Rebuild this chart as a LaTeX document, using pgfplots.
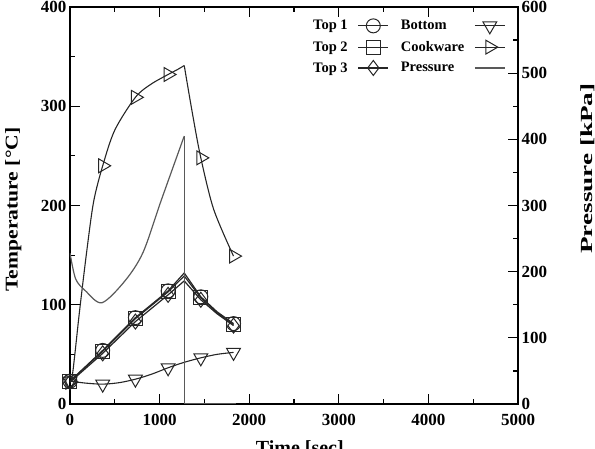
\documentclass[border=0pt]{standalone}
\usepackage{pgfplots}
\pgfplotsset{compat=1.18}
\usepackage{pgfplotstable}
\usepackage{fontspec}
\setmainfont{Liberation Serif}
\newfontfamily\ylabfont[FakeStretch=1.2]{Liberation Serif}
\newfontfamily\plabfont[FakeStretch=1.6]{Liberation Serif}

\pgfplotstableread{
t T
0 23
365 54
730 87
1095 114
1275 132
1460 108
1640 93
1825 81
}\topone
\pgfplotstableread{
t T
0 23
365 53
730 86
1095 113
1275 129
1460 107
1640 92
1825 80
}\toptwo
\pgfplotstableread{
t T
0 22
365 51
730 83
1095 110
1275 124
1460 105
1640 91
1825 79
}\topthree
\pgfplotstableread{
t T
0 23
180 21
365 20
550 21.5
730 25
910 30
1095 36.5
1275 42
1460 46.5
1640 50
1825 52
}\bottomline
\pgfplotstableread{
t T
0 23
365 20
730 25
1095 36.5
1460 46.5
1825 52
}\bottommarks
\pgfplotstableread{
t T
0 22
25 28
60 55
107 94
187 154
264 204
365 240
500 276
730 309
900 322
1095 332
1200 337
1275 341
}\cookup
\pgfplotstableread{
t T
1275 341
1366 293
1460 248
1604 196
1825 149
}\cookdown
\pgfplotstableread{
t T
0 22
365 240
730 309
1095 332
1460 248
1825 149
}\cookmarks
\pgfplotstableread{
t P
0 228
63 189
173 171
356 153
613 186
815 229
1016 307
1275 405
}\pressup

\begin{document}
\begin{tikzpicture}
\begin{axis}[name=main, scale only axis, width=448pt, height=397pt,
  xmin=0, xmax=5000, ymin=0, ymax=400,
  xtick={0,1000,...,5000}, minor x tick num=1,
  ytick={0,100,...,400}, minor y tick num=1,
  xtick pos=both, ytick pos=left, tick align=inside,
  major tick length=10pt, minor tick length=5pt,
  tick style={black, line width=1.2pt},
  axis line style={line width=1.6pt},
  scaled x ticks=false,
  /pgf/number format/assume math mode=true,
  /pgf/number format/1000 sep={},
  tick label style={font=\bfseries\fontsize{17}{17}\selectfont},
  xticklabel style={yshift=-7pt},
  xlabel={\bfseries\fontsize{20}{20}\selectfont Time [sec]},
  xlabel style={at={(axis description cs:0.513,-0.0907)}, anchor=north, inner sep=0pt},
  ylabel={\ylabfont\bfseries\fontsize{18}{18}\selectfont Temperature [°C]},
  ylabel style={at={(axis description cs:-0.1265,0.49)}, anchor=center, inner sep=0pt},
]
\addplot[black!85, line width=1.2pt, sharp plot, mark=o, mark size=7pt, mark options={solid, fill=none, line width=1pt}, mark indices={1,2,3,4,6,8}] table[x=t,y=T] {\topone};
\addplot[black!85, line width=1.2pt, sharp plot, mark=square, mark size=7pt, mark options={solid, fill=none, line width=1pt}, mark indices={1,2,3,4,6,8}] table[x=t,y=T] {\toptwo};
\addplot[black!85, line width=1.2pt, sharp plot, mark=diamond, mark size=7.5pt, mark options={solid, fill=none, line width=1pt}, mark indices={1,2,3,4,6,8}] table[x=t,y=T] {\topthree};
\addplot[black!85, line width=1.1pt, smooth, tension=0.5, no marks] table[x=t,y=T] {\bottomline};
\addplot[black!85, line width=1pt, only marks, mark=triangle, mark size=8pt, mark options={solid, fill=none, rotate=180}] table[x=t,y=T] {\bottommarks};
\addplot[black!85, line width=1.1pt, smooth, tension=0.5, no marks] table[x=t,y=T] {\cookup};
\addplot[black!85, line width=1.1pt, smooth, tension=0.5, no marks] table[x=t,y=T] {\cookdown};
\addplot[black!85, line width=1pt, only marks, mark=triangle, mark size=8pt, mark options={solid, fill=none, rotate=-90}] table[x=t,y=T] {\cookmarks};
\end{axis}
\begin{axis}[scale only axis, width=448pt, height=397pt,
  xmin=0, xmax=5000, ymin=0, ymax=600,
  axis x line=none, axis y line*=right,
  ytick={0,100,...,600}, minor y tick num=1,
  tick align=inside,
  major tick length=10pt, minor tick length=5pt,
  tick style={black, line width=1.2pt},
  axis line style={line width=1.6pt},
  /pgf/number format/assume math mode=true,
  tick label style={font=\bfseries\fontsize{17}{17}\selectfont},
  ylabel={\plabfont\bfseries\fontsize{17}{17}\selectfont Pressure [kPa]},
  ylabel style={at={(axis description cs:1.156,0.593)}, anchor=center, inner sep=0pt},
  legend columns=2, legend plot pos=right, legend cell align=left,
  legend style={draw=none, fill=none, at={(axis description cs:0.538,0.972)}, anchor=north west,
    inner sep=0pt, nodes={inner sep=2pt}, row sep=5.5pt,
    font=\bfseries\fontsize{14.5}{15}\selectfont,
    /tikz/every odd column/.append style={column sep=8pt},
    /tikz/every even column/.append style={column sep=10pt}},
  legend image code/.code={\draw[mark repeat=2,mark phase=2,#1] plot coordinates {(0pt,0pt) (15pt,0pt) (30pt,0pt)};},
]
\addlegendimage{black!85, line width=1.1pt, mark=o, mark size=7pt, mark options={solid, fill=none, line width=1pt}}
\addlegendentry{Top 1}
\addlegendimage{black!85, line width=1.1pt, mark=triangle, mark size=8pt, mark options={solid, fill=none, rotate=180, line width=1pt}}
\addlegendentry{Bottom}
\addlegendimage{black!85, line width=1.1pt, mark=square, mark size=7pt, mark options={solid, fill=none, line width=1pt}}
\addlegendentry{Top 2}
\addlegendimage{black!85, line width=1.1pt, mark=triangle, mark size=8pt, mark options={solid, fill=none, rotate=-90, line width=1pt}}
\addlegendentry{Cookware}
\addlegendimage{black!85, line width=1.1pt, mark=diamond, mark size=7.5pt, mark options={solid, fill=none, line width=1pt}}
\addlegendentry{Top 3}
\addplot[black!65, line width=1.2pt, smooth, tension=0.5, no marks] table[x=t,y=P] {\pressup};
\addlegendentry{Pressure}
\addplot[black!65, line width=1.2pt, sharp plot, no marks, forget plot] coordinates {(1275,405) (1275,0) (1850,0)};
\end{axis}
\pgfresetboundingbox
\path[use as bounding box] ([xshift=-70pt,yshift=-45pt]main.south west) rectangle ([xshift=77pt,yshift=7pt]main.north east);
\end{tikzpicture}
\end{document}
